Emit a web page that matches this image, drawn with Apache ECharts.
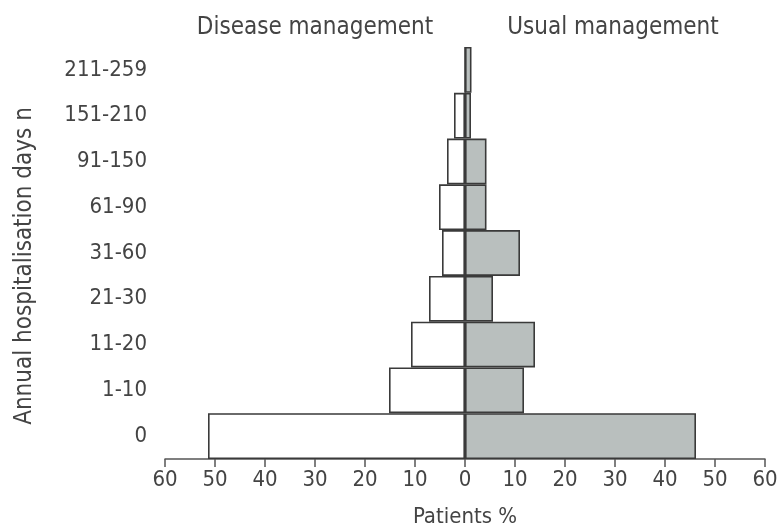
<!DOCTYPE html>
<html>
<head>
<meta charset="utf-8">
<script src="https://cdn.jsdelivr.net/npm/echarts@6/dist/echarts.min.js"></script>
<style>html,body{margin:0;padding:0;background:#fff}#c{width:778px;height:526px}</style>
</head>
<body>
<div id="c"></div>
<script>
const categories = ['0', '1-10', '11-20', '21-30', '31-60', '61-90', '91-150', '151-210', '211-259'];
const diseaseManagement = [51.4, 15.2, 10.8, 7.2, 4.6, 5.2, 3.6, 2.2, 0];
const usualManagement = [46.2, 11.8, 14, 5.6, 11, 4.3, 4.3, 1.2, 1.3];
const xTicks = [-60, -50, -40, -30, -20, -10, 0, 10, 20, 30, 40, 50, 60];

const FONT = '"DejaVu Sans Condensed", "Roboto", sans-serif';
const FS = 22;
const FT = 24;
const TXT = '#444';
const chart = echarts.init(document.getElementById('c'));
chart.setOption({
  animation: false,
  backgroundColor: '#fff',
  grid: { left: 165, right: 13, top: 47, bottom: 67, containLabel: false, outerBoundsMode: 'none' },
  graphic: [
    { type: 'text', x: 315, y: 28, style: { text: 'Disease management', font: FT + 'px ' + FONT, fill: TXT, align: 'center', verticalAlign: 'middle' } },
    { type: 'text', x: 613, y: 28, style: { text: 'Usual management', font: FT + 'px ' + FONT, fill: TXT, align: 'center', verticalAlign: 'middle' } },
    { type: 'text', x: 25, y: 266, rotation: Math.PI / 2, style: { text: 'Annual hospitalisation days n', font: FT + 'px ' + FONT, fill: TXT, align: 'center', verticalAlign: 'middle' } }
  ],
  xAxis: {
    type: 'value',
    min: xTicks[0], max: xTicks[xTicks.length - 1], interval: 10,
    splitLine: { show: false },
    axisLine: { show: true, lineStyle: { color: '#555', width: 1.5 } },
    axisTick: { show: true, length: 8, lineStyle: { color: '#555', width: 1.5 } },
    axisLabel: { color: TXT, fontSize: FS, fontFamily: FONT, margin: 10, formatter: v => String(Math.abs(v)) },
    name: 'Patients %', nameLocation: 'middle', nameGap: 47,
    nameTextStyle: { color: TXT, fontSize: FS, fontFamily: FONT }
  },
  yAxis: {
    type: 'category', data: categories,
    axisLine: { show: false }, axisTick: { show: false },
    axisLabel: { color: TXT, fontSize: FS, fontFamily: FONT, margin: 18 }
  },
  series: [
    {
      name: 'Disease management', type: 'bar', stack: 'total', barWidth: '100%',
      data: diseaseManagement.map(v => -v),
      itemStyle: { color: '#fff', borderColor: '#3a3a3a', borderWidth: 1.6 }
    },
    {
      name: 'Usual management', type: 'bar', stack: 'total', barWidth: '100%',
      data: usualManagement,
      itemStyle: { color: '#b9bfbe', borderColor: '#3a3a3a', borderWidth: 1.6 }
    }
  ]
});
</script>
</body>
</html>
